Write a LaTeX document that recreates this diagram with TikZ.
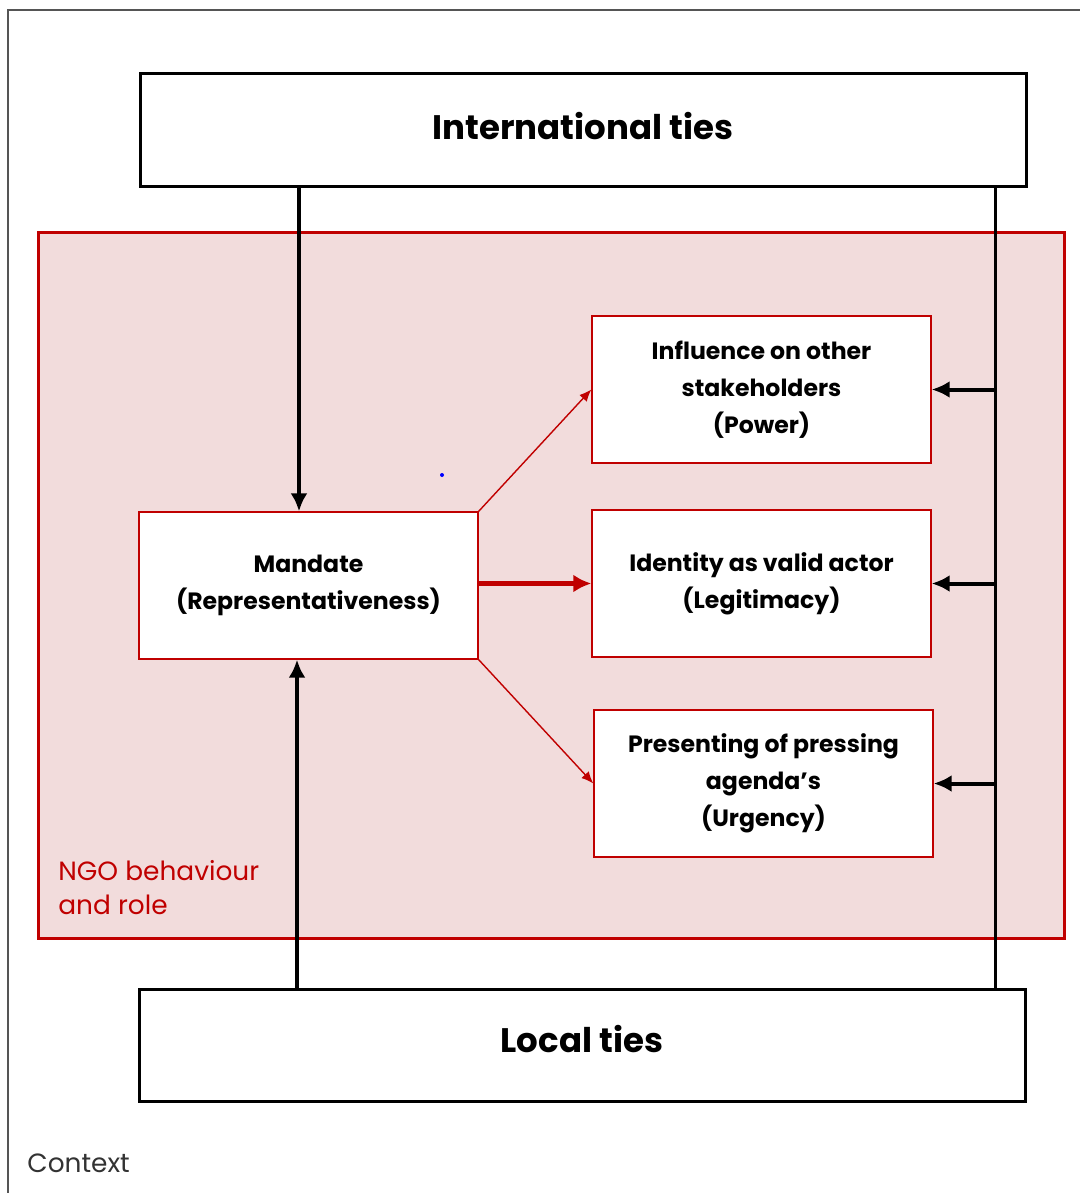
\documentclass[tikz,border=0pt]{standalone}
\usepackage{fontspec}
\setmainfont{Poppins}
\usetikzlibrary{arrows.meta, positioning}
\definecolor{ngofill}{HTML}{F2DCDC}
\definecolor{ngored}{HTML}{C00000}
\definecolor{framegray}{HTML}{555555}

\tikzset{
    tiesbox/.style={draw=black, line width=1.5pt, fill=white, minimum width=443pt, minimum height=56pt, inner sep=0pt, font=\bfseries\fontsize{17}{20}\selectfont},
    rolebox/.style={draw=ngored, line width=0.7pt, fill=white, minimum width=169.5pt, minimum height=73.5pt, inner sep=0pt, align=center, font=\bfseries\fontsize{11.8}{18.5}\selectfont},
    tiearrow/.style={line width=2pt, -{Latex[length=9pt, width=8.5pt]}},
    rolearrow/.style={draw=ngored, line width=0.7pt, -{Latex[length=6pt, width=5pt]}},
}

\begin{document}
\begin{tikzpicture}[x=0.5pt, y=-0.5pt]
            \useasboundingbox (0,0) rectangle (1080,1193);
            % context frame (cut off on the right and bottom)
            \draw[framegray, line width=1pt] (8,1193) -- (8,10) -- (1080,10);
            \node[anchor=base west, inner sep=0pt, text=framegray!60!black, font=\fontsize{13.2}{15}\selectfont] (context) at (27,1172) {Context};

            % NGO area
            \draw[ngored, fill=ngofill, line width=1.5pt] (38,232) rectangle (1064,938);
            \node[anchor=north west, align=left, text=ngored, inner sep=0pt, font=\fontsize{13.2}{17}\selectfont] (ngo) at (58,860) {NGO behaviour\\and role};
            \fill[blue] (442,475) circle (1pt);

            \node[tiesbox] (intl) at (583,130) {\raisebox{4pt}{International ties}};
            \node[tiesbox] (local) at (582,1045) {\raisebox{6pt}{Local ties}};

            \node[rolebox] (mandate) at (308.5,585.5) {Mandate\\(Representativeness)};
            \node[rolebox] (power) at (761.5,389.5) {Influence on other\\stakeholders\\(Power)};
            \node[rolebox] (legit) at (761.5,583.5) {Identity as valid actor\\(Legitimacy)};
            \node[rolebox] (urgent) at (763.5,783.5) {Presenting of pressing\\agenda’s\\(Urgency)};

            \coordinate (down) at (299,0);
            \coordinate (up) at (297,0);
            \coordinate (rline) at (995,0);

            \draw[tiearrow] (intl.south -| down) -- (mandate.north -| down);
            \draw[tiearrow] (local.north -| up) -- (mandate.south -| up);
            \draw[line width=1.5pt] (intl.south -| rline) -- (local.north -| rline);
            \draw[tiearrow] (power.east -| rline) -- (power.east);
            \draw[tiearrow] (legit.east -| rline) -- (legit.east);
            \draw[tiearrow] (urgent.east -| rline) -- (urgent.east);

            \draw[rolearrow] (mandate.north east) -- (power.west);
            \draw[rolearrow, line width=2.5pt, -{Latex[length=9pt, width=9pt]}] (legit.west -| mandate.east) -- (legit.west);
            \draw[rolearrow] (mandate.south east) -- (urgent.west);
\end{tikzpicture}
\end{document}
